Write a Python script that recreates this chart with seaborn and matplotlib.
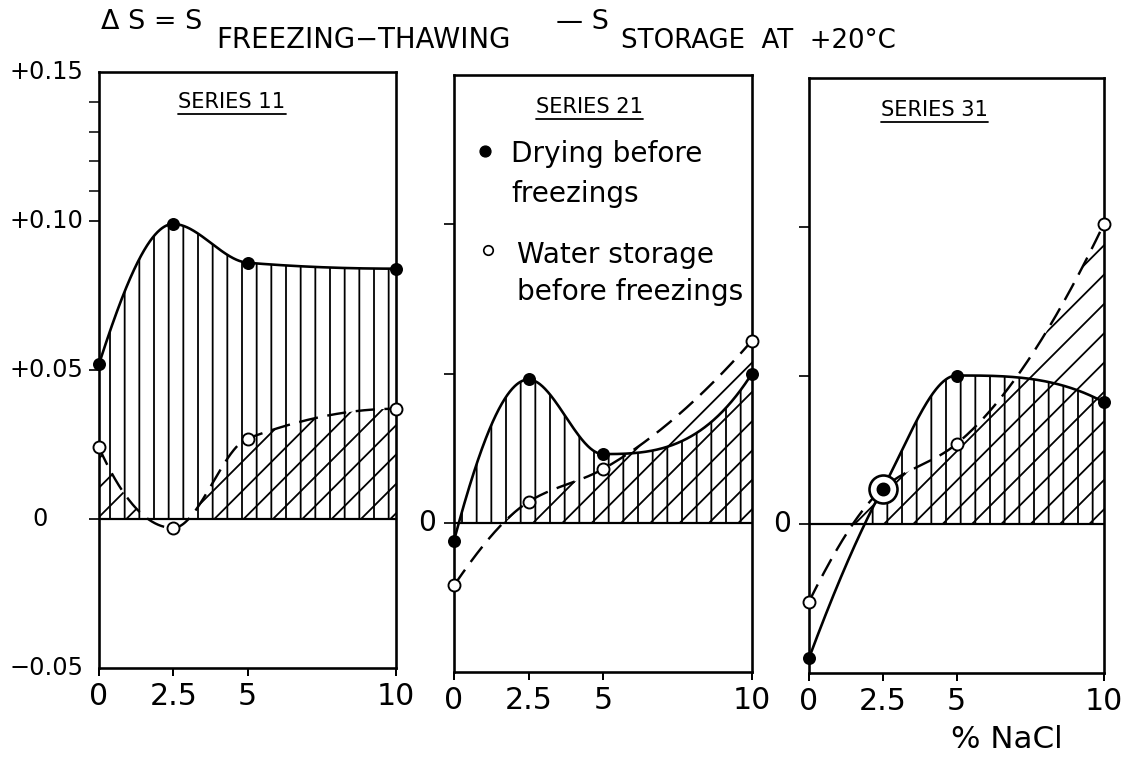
import numpy as np
import pandas as pd
import matplotlib
matplotlib.use("Agg")
import matplotlib.pyplot as plt
from matplotlib.lines import Line2D
import seaborn as sns

# ---------------------------------------------------------------- data
nacl = [0, 2.5, 5, 10]                      # % NaCl
nacl_labels = ["0", "2.5", "5", "10"]

series_titles = ["SERIES 11", "SERIES 21", "SERIES 31"]

# Delta S for specimens dried before freezing (filled dots)
drying_11 = [0.052, 0.099, 0.086, 0.084]
drying_21 = [-0.006, 0.048, 0.023, 0.050]
drying_31 = [-0.045, 0.012, 0.050, 0.041]

# Delta S for specimens stored in water before freezing (open dots)
water_11 = [0.024, -0.003, 0.027, 0.037]
water_21 = [-0.021, 0.007, 0.018, 0.061]
water_31 = [-0.026, 0.012, 0.027, 0.101]

y_ticks_major = [0.0, 0.05, 0.10]
y_ticks_minor = [0.11, 0.12, 0.13, 0.14]
y_labels_11 = [(0.15, "+0.15"), (0.10, "+0.10"), (0.05, "+0.05"), (0.0, "0"), (-0.05, "\u22120.05")]

legend_lines = [("Drying before", "freezings"), ("Water storage", "before freezings")]

# ---------------------------------------------------------------- style
W, H, DPI = 1124, 760, 88


def pt(v):
    """pixels -> points"""
    return v * 72.0 / DPI


sns.set_style("white", {"xtick.bottom": True, "ytick.left": True,
                        "axes.edgecolor": "black"})
plt.rcParams["font.family"] = ["DejaVu Sans"]
plt.rcParams["hatch.linewidth"] = pt(1.8)
plt.rcParams["hatch.color"] = "black"
plt.rcParams["text.color"] = "black"


def smooth(x, y, xs):
    """Monotone piecewise cubic (PCHIP) curve through the measured points."""
    x = np.asarray(x, float)
    y = np.asarray(y, float)
    h = np.diff(x)
    d = np.diff(y) / h
    n = len(x)
    m = np.zeros(n)
    for k in range(1, n - 1):
        if d[k - 1] * d[k] > 0:
            w1 = 2 * h[k] + h[k - 1]
            w2 = h[k] + 2 * h[k - 1]
            m[k] = (w1 + w2) / (w1 / d[k - 1] + w2 / d[k])

    def end(h0, h1, d0, d1):
        mm = ((2 * h0 + h1) * d0 - h0 * d1) / (h0 + h1)
        if np.sign(mm) != np.sign(d0):
            mm = 0.0
        elif np.sign(d0) != np.sign(d1) and abs(mm) > abs(3 * d0):
            mm = 3 * d0
        return mm

    m[0] = end(h[0], h[1], d[0], d[1])
    m[-1] = end(h[-1], h[-2], d[-1], d[-2])
    idx = np.clip(np.searchsorted(x, xs, side="right") - 1, 0, n - 2)
    t = (xs - x[idx]) / h[idx]
    h00 = 2 * t**3 - 3 * t**2 + 1
    h10 = t**3 - 2 * t**2 + t
    h01 = -2 * t**3 + 3 * t**2
    h11 = t**3 - t**2
    return (h00 * y[idx] + h10 * h[idx] * m[idx]
            + h01 * y[idx + 1] + h11 * h[idx] * m[idx + 1])


fig = plt.figure(figsize=(W / DPI, H / DPI), dpi=DPI)
fig.patch.set_facecolor("white")


def rect(l, t, r, b):
    return [l / W, 1 - b / H, (r - l) / W, (b - t) / H]


panel_boxes = [(99, 72, 396, 668), (454, 75, 752, 672), (809, 78, 1104, 673)]
drying_all = [drying_11, drying_21, drying_31]
water_all = [water_11, water_21, water_31]
title_pos = [(0.448, 0.949), (0.456, 0.946), (0.427, 0.947)]

axes = []
title_texts = []
xs = np.linspace(0, 10, 600)

for i, box in enumerate(panel_boxes):
    ax = fig.add_axes(rect(*box))
    axes.append(ax)
    dry = drying_all[i]
    wat = water_all[i]
    yd = smooth(nacl, dry, xs)
    yw = smooth(nacl, wat, xs)

    # hatched areas between each curve and zero
    ax.fill_between(xs, 0, yd, where=yd > 0, interpolate=True,
                    facecolor="none", edgecolor="black", hatch="|", linewidth=0)
    ax.fill_between(xs, 0, yw, where=yw > 0, interpolate=True,
                    facecolor="none", edgecolor="black", hatch="/", linewidth=0)

    ax.axhline(0, color="black", lw=pt(2.2), zorder=3)

    sns.lineplot(data=pd.DataFrame({"x": xs, "y": yd}), x="x", y="y", ax=ax,
                 color="black", lw=pt(2.6), sort=False, estimator=None, zorder=4)
    sns.lineplot(data=pd.DataFrame({"x": xs, "y": yw}), x="x", y="y", ax=ax,
                 color="black", lw=pt(2.4), sort=False, estimator=None,
                 linestyle=(0, (8, 4)), zorder=4)

    # coincident measurements get a large ring
    same = [k for k in range(len(nacl)) if abs(dry[k] - wat[k]) < 1e-9]
    if same:
        sns.scatterplot(x=[nacl[k] for k in same], y=[dry[k] for k in same], ax=ax,
                        s=pt(28) ** 2, facecolor="white", edgecolor="black",
                        linewidth=pt(2.6), zorder=5, clip_on=False, legend=False)
    sns.scatterplot(x=nacl, y=wat, ax=ax, s=pt(12) ** 2, facecolor="white",
                    edgecolor="black", linewidth=pt(1.9), zorder=6, clip_on=False,
                    legend=False)
    sns.scatterplot(x=nacl, y=dry, ax=ax, s=pt(13) ** 2, color="black",
                    edgecolor="black", linewidth=0, zorder=7, clip_on=False,
                    legend=False)

    ax.set_xlim(0, 10)
    ax.set_ylim(-0.05, 0.15)
    ax.set_xticks(nacl)
    ax.set_xticklabels(nacl_labels)
    ax.set_yticks(y_ticks_major)
    ax.set_yticklabels([])
    if i == 0:
        ax.set_yticks(y_ticks_minor, minor=True)
        ax.tick_params(axis="y", which="minor", direction="out", length=pt(10),
                       width=pt(1.8), left=True)
    ax.tick_params(axis="x", direction="out", length=pt(8), width=pt(2.0),
                   pad=pt(6), labelsize=pt(30), colors="black")
    ax.tick_params(axis="y", which="major", direction="out", length=pt(10),
                   width=pt(2.0))
    ax.set_xlabel("")
    ax.set_ylabel("")
    for sp in ax.spines.values():
        sp.set_visible(True)
        sp.set_linewidth(pt(2.6))
        sp.set_color("black")

    tt = ax.text(title_pos[i][0], title_pos[i][1], series_titles[i],
                 transform=ax.transAxes, ha="center", va="center",
                 fontsize=pt(21))
    title_texts.append(tt)

# y labels
ytrans = axes[0].get_yaxis_transform()
for val, lab in y_labels_11:
    xpix = 32 if lab == "0" else 10
    axes[0].text((xpix - 99) / 297, val, lab, transform=ytrans, ha="left",
                 va="center", fontsize=pt(24))
for k, (l, t, r, b) in enumerate(panel_boxes[1:], start=1):
    ax = axes[k]
    ax.text(-27 / (r - l), 0.0, "0", transform=ax.get_yaxis_transform(),
            ha="center", va="center", fontsize=pt(28))

# legend inside the middle panel
ax2 = axes[1]
bx0, by0, bx1, by1 = panel_boxes[1]


def to_ax(xp, yp):
    return (xp - bx0) / (bx1 - bx0), (by1 - yp) / (by1 - by0)


ax2.plot(*to_ax(485, 151), transform=ax2.transAxes, marker="o", ms=pt(11),
         color="black", mec="black", clip_on=False)
ax2.plot(*to_ax(488, 250), transform=ax2.transAxes, marker="o", ms=pt(9.5),
         mfc="white", mec="black", mew=pt(1.7), clip_on=False)
for (x0, yb), line in zip([(511, 162), (511, 202)], legend_lines[0]):
    ax2.text(*to_ax(x0, yb), line, transform=ax2.transAxes, ha="left",
             va="baseline", fontsize=pt(28))
for (x0, yb), line in zip([(517, 263), (517, 300)], legend_lines[1]):
    ax2.text(*to_ax(x0, yb), line, transform=ax2.transAxes, ha="left",
             va="baseline", fontsize=pt(28))


# heading
def ftext(xp, yp, s, size, **kw):
    fig.text(xp / W, 1 - yp / H, s, fontsize=pt(size), va="baseline", ha="left", **kw)


ftext(101, 29, "\u0394 S = S", 27)
ftext(216, 48, "FREEZING\u2212THAWING", 27.5)
ftext(556, 29, "\u2014 S", 27)
ftext(621, 48, "STORAGE  AT  +20\u00b0C", 26)

# axis label
fig.text(1007 / W, 1 - 740 / H, "% NaCl", fontsize=pt(31), ha="center", va="center")

# underline the series titles
fig.canvas.draw()
renderer = fig.canvas.get_renderer()
for tt in title_texts:
    bb = tt.get_window_extent(renderer=renderer)
    yl = bb.y0 - 2
    fig.add_artist(Line2D([bb.x0 / fig.bbox.width, bb.x1 / fig.bbox.width],
                          [yl / fig.bbox.height, yl / fig.bbox.height],
                          transform=fig.transFigure, color="black", lw=pt(1.8)))

fig.savefig("out.png", dpi=DPI, facecolor="white")
